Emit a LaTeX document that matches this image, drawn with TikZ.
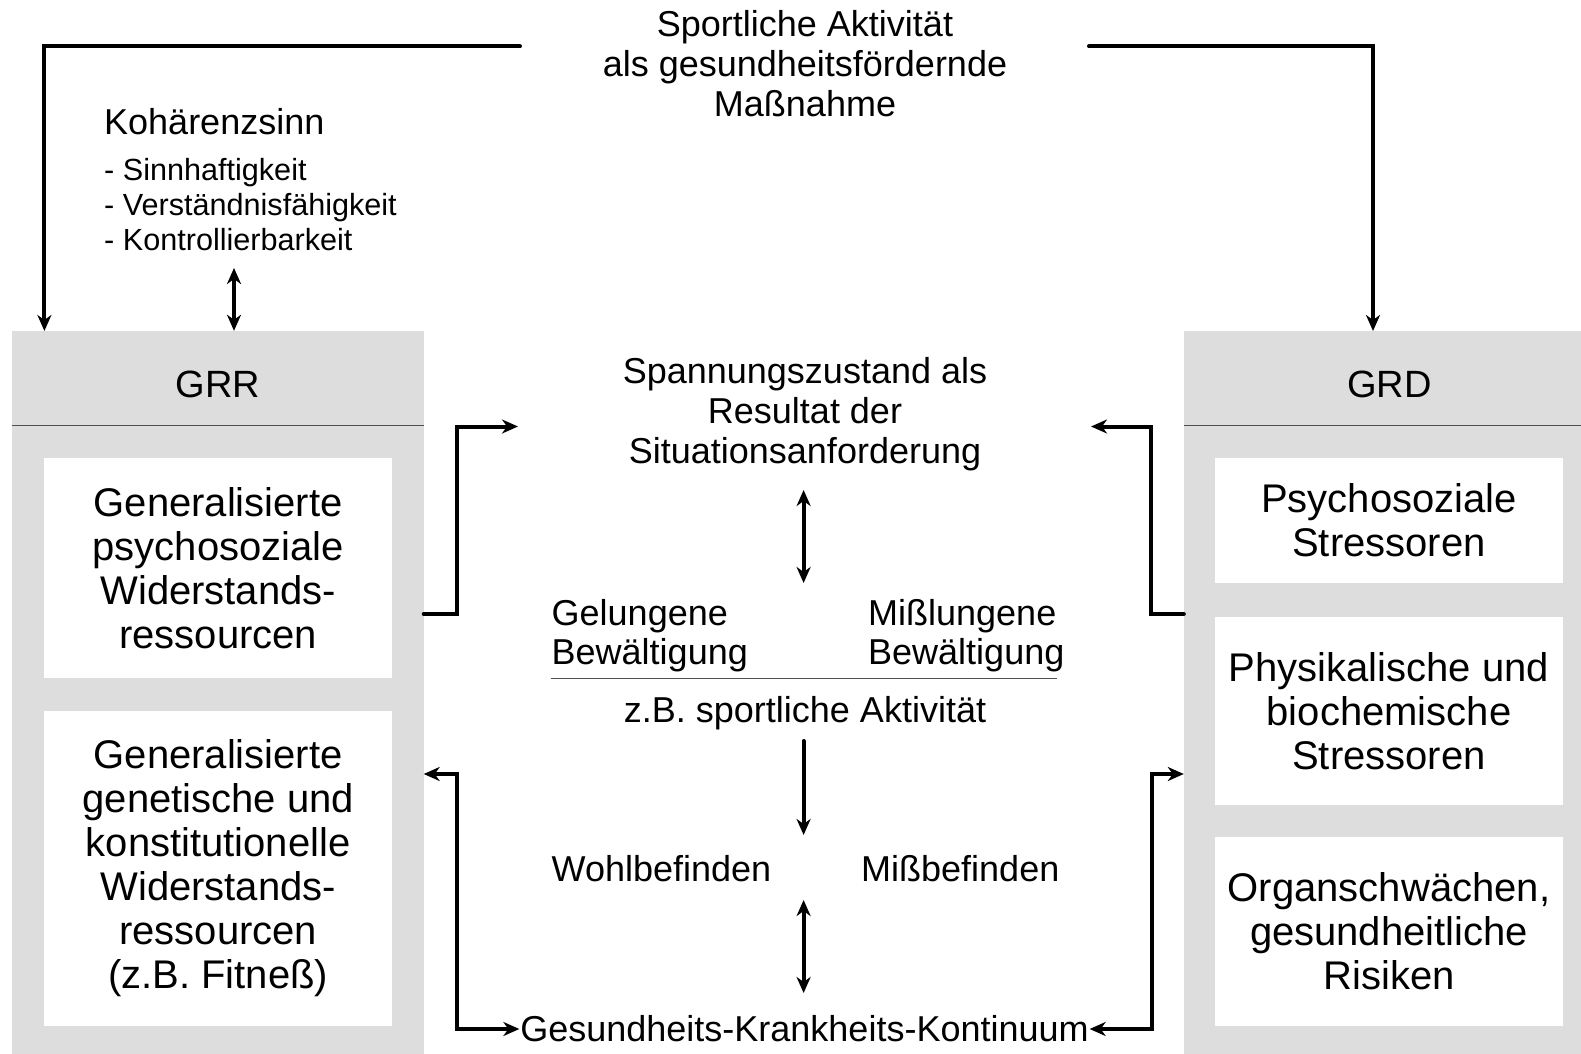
\documentclass[tikz,border=0pt]{standalone}
\usepackage{fontspec}
\setmainfont{Liberation Sans}
\usetikzlibrary{arrows.meta}
\definecolor{panelgray}{HTML}{DDDDDD}
\definecolor{sepgray}{HTML}{505050}
\tikzset{
  tip/.tip={Stealth[length=16pt,width=14pt,inset=5pt]},
  arr/.style={line width=4pt, line cap=round, -tip},
  darr/.style={line width=4pt, tip-tip},
  sepline/.style={line width=1.5pt, draw=sepgray},
  panel/.style={fill=panelgray, draw=none, inner sep=0pt, minimum width=#1},
  wbox/.style={fill=white, draw=none, inner sep=0pt, align=center,
    minimum width=348pt, font=\fontsize{40}{44}\selectfont},
  ctext/.style={inner sep=0pt, align=center, font=\fontsize{36}{40}\selectfont},
  ltext/.style={inner sep=0pt, align=left, font=\fontsize{36}{39}\selectfont},
  htext/.style={inner sep=0pt, font=\fontsize{38}{42}\selectfont},
}
\begin{document}
\begin{tikzpicture}[x=1pt,y=-1pt]
\useasboundingbox (0,0) rectangle (1581,1054);

% panels
\node[panel=411.5pt, minimum height=723pt] (lpanel) at (217.75,692.5) {};
\node[panel=397pt, minimum height=723pt] (rpanel) at (1382.5,692.5) {};
\coordinate (sepy) at (0,425.5);
\draw[sepline] (lpanel.west |- sepy) -- (lpanel.east |- sepy);
\draw[sepline] (rpanel.west |- sepy) -- (rpanel.east |- sepy);
\node[htext, anchor=base] (grr) at (218,397.7) {GRR};
\node[htext, anchor=base] (grd) at (1389.5,397.7) {GRD};

% left boxes
\node[wbox, minimum height=219.6pt] (lb1) at (218.2,567.8)
  {Generalisierte\\psychosoziale\\Widerstands-\\ressourcen};
\node[wbox, minimum height=314.5pt] (lb2) at (218.2,868.25)
  {Generalisierte\\genetische und\\konstitutionelle\\Widerstands-\\ressourcen\\(z.B. Fitneß)};

% right boxes
\node[wbox, minimum height=125pt] (rb1) at (1389,520.5)
  {Psychosoziale\\Stressoren};
\node[wbox, minimum height=188pt] (rb2) at (1389,711)
  {Physikalische und\\biochemische\\Stressoren};
\node[wbox, minimum height=188.5pt] (rb3) at (1389,931.25)
  {Organschwächen,\\gesundheitliche\\Risiken};

% top
\node[ctext] (top) at (805,63.5)
  {Sportliche Aktivität\\als gesundheitsfördernde\\Maßnahme};
\coordinate (tl) at (520,46.4);
\coordinate (tr) at (1089,46.4);
\coordinate (lin) at (44.4,331);
\coordinate (rin) at (1373,331);
\draw[arr] (tl) -| (lin);
\draw[arr] (tr) -| (rin);

% Kohaerenzsinn
\node[ctext, anchor=base west] (koh) at (104,135) {Kohärenzsinn};
\node[inner sep=0pt, align=left, anchor=north west,
  font=\fontsize{30.6}{35.3}\selectfont] (kohlist) at (104,158)
  {- Sinnhaftigkeit\\- Verständnisfähigkeit\\- Kontrollierbarkeit};
\coordinate (kohdn) at (234,268);
\draw[darr] (kohdn) -- (kohdn |- lpanel.north);

% centre column
\node[ctext] (span) at (805,414.5)
  {Spannungszustand als\\Resultat der\\Situationsanforderung};
\coordinate (spanL) at (518,426.5);
\coordinate (spanR) at (1091,426.5);
\coordinate (outy) at (0,614);
\draw[arr] (lpanel.east |- outy) -- ++(33.5,0) |- (spanL);
\draw[arr] (rpanel.west |- outy) -- ++(-32.5,0) |- (spanR);

\coordinate (c1a) at (803.6,490);
\coordinate (c1b) at (803.6,583);
\draw[darr] (c1a) -- (c1b);

\node[ltext, anchor=west] (gel) at (551.5,636) {Gelungene\\Bewältigung};
\node[ltext, anchor=west] (mis) at (868,636) {Mißlungene\\Bewältigung};
\coordinate (hl) at (550.5,678.6);
\coordinate (hr) at (1057,678.6);
\draw[sepline] (hl) -- (hr);
\node[ctext, anchor=base] (zb) at (805,722) {z.B. sportliche Aktivität};

\coordinate (c2a) at (803.6,741);
\coordinate (c2b) at (803.6,835);
\draw[arr] (c2a) -- (c2b);

\node[ctext, anchor=base west] (wohl) at (551.5,881) {Wohlbefinden};
\node[ctext, anchor=base west] (missb) at (861,881) {Mißbefinden};

\coordinate (c3a) at (803.6,900);
\coordinate (c3b) at (803.6,993);
\draw[darr] (c3a) -- (c3b);

\node[ctext, outer sep=1pt] (konti) at (804.5,1029) {Gesundheits-Krankheits-Kontinuum};
\coordinate (lbend) at (457,774);
\coordinate (rbend) at (1151.5,774);
\draw[darr] (konti.west) -- (konti.west -| lbend) |- (lpanel.east |- lbend);
\draw[darr] (konti.east) -- (konti.east -| rbend) |- (rpanel.west |- rbend);
\end{tikzpicture}
\end{document}
